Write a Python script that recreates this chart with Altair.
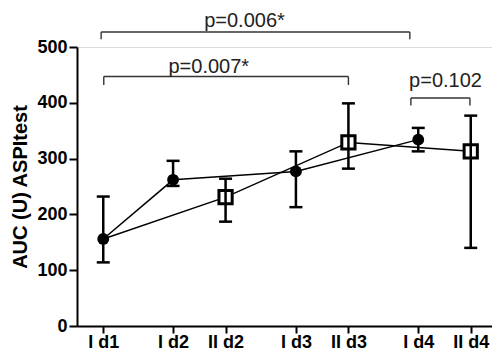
import altair as alt
import pandas as pd

# ---- data ----
labels = ["I d1", "I d2", "II d2", "I d3", "II d3", "I d4", "II d4"]
xpos = [0, 1.33, 2.33, 3.67, 4.67, 6, 7]
groups = ["I", "I", "II", "I", "II", "I", "II"]
means = [156, 262, 231, 277, 329, 334, 313]
lower = [114, 251, 187, 213, 282, 313, 140]
upper = [232, 296, 264, 313, 399, 355, 377]

# connecting lines (indices into the lists above)
line_I = [0, 1, 3, 5]
line_II = [0, 2, 4, 6]

# significance brackets
br_x1 = [-0.04, 0.01, 5.86]
br_x2 = [5.84, 4.67, 6.985]
br_y = [527, 447, 408.5]
br_drop = [514, 432, 395]
p_text = ["p=0.006*", "p=0.007*", "p=0.102"]
p_x = [2.69, 2.01, 6.52]
p_y = [535, 454, 429]

FONT = "Liberation Sans"

pts = pd.DataFrame({"label": labels, "x": xpos, "group": groups,
                    "mean": means, "lo": lower, "hi": upper})

line_rows = []
for name, idx in (("I", line_I), ("II", line_II)):
    for k, i in enumerate(idx):
        line_rows.append({"series": name, "order": k, "x": xpos[i], "mean": means[i]})
lines_df = pd.DataFrame(line_rows)

br_h = pd.DataFrame({"x": br_x1, "x2": br_x2, "y": br_y})
drop_rows = []
for a, b, y, d in zip(br_x1, br_x2, br_y, br_drop):
    drop_rows.append({"x": a, "y": y, "y2": d})
    drop_rows.append({"x": b, "y": y, "y2": d})
br_v = pd.DataFrame(drop_rows)
txt = pd.DataFrame({"x": p_x, "y": p_y, "t": p_text})

label_expr = "".join(
    f"abs(datum.value - {p}) < 0.01 ? '{l}' : " for p, l in zip(xpos, labels)
) + "''"

xscale = alt.Scale(domain=[-0.5, 7.405], nice=False, zero=False)
yscale = alt.Scale(domain=[0, 500], nice=False, zero=False)

xaxis = alt.Axis(values=xpos, labelExpr=label_expr, title=None, grid=False,
                 tickSize=7, tickWidth=2, tickColor="black",
                 domainWidth=2, domainColor="black",
                 labelFont=FONT, labelFontSize=18, labelFontWeight="bold",
                 labelColor="black", labelPadding=0)
yaxis = alt.Axis(values=[0, 100, 200, 300, 400, 500], title="AUC (U) ASPItest",
                 grid=False, tickSize=8, tickWidth=2, tickColor="black",
                 domainWidth=2, domainColor="black",
                 labelFont=FONT, labelFontSize=18, labelFontWeight="bold",
                 labelColor="black", labelPadding=2,
                 titleFont=FONT, titleFontSize=20, titleFontWeight="bold",
                 titleColor="black", titlePadding=6)

X = alt.X("x:Q", scale=xscale, axis=xaxis)
Y = alt.Y("mean:Q", scale=yscale, axis=yaxis)

lines = alt.Chart(lines_df).mark_line(color="black", strokeWidth=1.5).encode(
    x=X, y=Y, detail="series:N", order="order:Q")

base = alt.Chart(pts)
squares = base.transform_filter(alt.datum.group == "II").mark_point(
    shape="square", filled=False, fill="white", fillOpacity=1,
    stroke="black", strokeWidth=3, size=175, opacity=1).encode(
    x=alt.X("x:Q", scale=xscale), y=alt.Y("mean:Q", scale=yscale))
rules = base.mark_rule(color="black", strokeWidth=2.5).encode(
    x=alt.X("x:Q", scale=xscale), y=alt.Y("lo:Q", scale=yscale), y2="hi:Q")
cap_lo = base.mark_tick(orient="horizontal", color="black", size=13,
                        thickness=2.5, opacity=1).encode(
    x=alt.X("x:Q", scale=xscale), y=alt.Y("lo:Q", scale=yscale))
cap_hi = base.mark_tick(orient="horizontal", color="black", size=13,
                        thickness=2.5, opacity=1).encode(
    x=alt.X("x:Q", scale=xscale), y=alt.Y("hi:Q", scale=yscale))
circles = base.transform_filter(alt.datum.group == "I").mark_point(
    shape="circle", filled=True, color="black", size=140, opacity=1).encode(
    x=alt.X("x:Q", scale=xscale), y=alt.Y("mean:Q", scale=yscale))

bh = alt.Chart(br_h).mark_rule(color="#333333", strokeWidth=1.4).encode(
    x=alt.X("x:Q", scale=xscale), x2="x2:Q", y=alt.Y("y:Q", scale=yscale))
bv = alt.Chart(br_v).mark_rule(color="#333333", strokeWidth=1.4).encode(
    x=alt.X("x:Q", scale=xscale), y=alt.Y("y:Q", scale=yscale), y2="y2:Q")
texts = alt.Chart(txt).mark_text(font=FONT, fontSize=20, color="#222222",
                                 align="center", baseline="alphabetic").encode(
    x=alt.X("x:Q", scale=xscale), y=alt.Y("y:Q", scale=yscale), text="t:N")

chart = alt.layer(lines, squares, rules, cap_lo, cap_hi, circles, bh, bv, texts).properties(
    width=415, height=279,
    autosize=alt.AutoSizeParams(type="none"),
    padding={"left": 69, "top": 39, "right": 0, "bottom": 25},
).configure_view(stroke=None).configure(background="white")

chart.save("out.html", embed_options={"renderer": "svg", "actions": False})
